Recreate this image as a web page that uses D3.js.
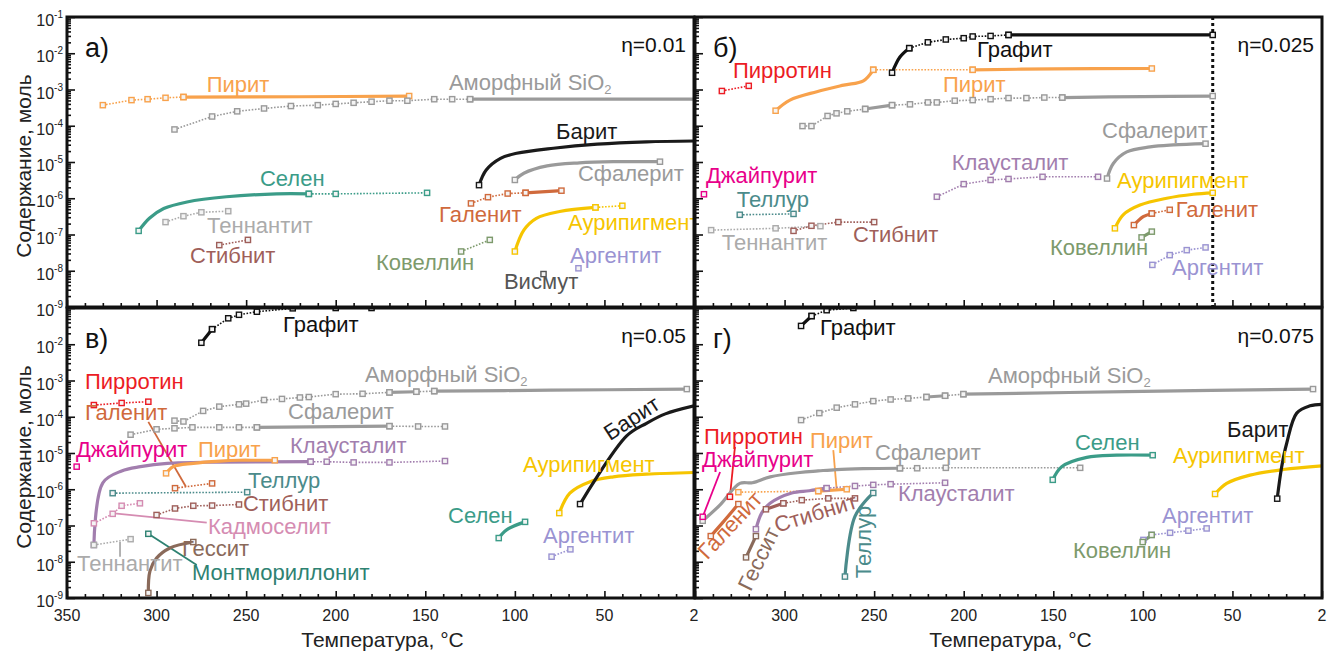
<!DOCTYPE html>
<html>
<head>
<meta charset="utf-8">
<script src="https://cdn.jsdelivr.net/npm/d3@7"></script>
<style>
  html, body { margin: 0; padding: 0; background: #fff; }
  svg { display: block; font-family: "Liberation Sans", Arial, sans-serif; }
</style>
</head>
<body>
<svg id="chart" width="1336" height="653"></svg>
<script>
// Temperature axis (°C) and tick labels
const tempMajorTicks = [350, 300, 250, 200, 150, 100, 50, 0];
const tempTickLabels = ["350", "300", "250", "200", "150", "100", "50", "2"];
const decadeExponents = [-1, -2, -3, -4, -5, -6, -7, -8, -9];

// Series: each mineral is a list of parts, "solid" (stable) or "dotted" (with square markers).
// Points are [temperature °C, content mol].
const seriesA = [
  { mineral: "Пирит", parts: [
    ["dotted", [[330, 3.7e-4], [314, 5.1e-4], [305, 5.4e-4], [295, 5.9e-4], [285, 6.2e-4]]],
    ["solid", [[285, 6.2e-4], [220, 6.3e-4], [159, 6.6e-4]]]] },
  { mineral: "Аморфный SiO2", parts: [
    ["dotted", [[290, 7.9e-5], [269, 1.8e-4], [255, 2.5e-4], [240, 3.0e-4], [225, 3.5e-4], [210, 3.7e-4], [200, 4.0e-4], [190, 4.3e-4], [180, 4.6e-4], [170, 4.9e-4], [160, 4.9e-4], [145, 5.4e-4], [135, 5.4e-4], [125, 5.4e-4]]],
    ["solid", [[125, 5.4e-4], [60, 5.4e-4], [0, 5.4e-4]]]] },
  { mineral: "Селен", parts: [
    ["solid", [[310, 1.26e-7], [304, 2.8e-7], [296, 5.2e-7], [283, 7.9e-7], [261, 1.1e-6], [233, 1.32e-6], [215, 1.32e-6]]],
    ["dotted", [[215, 1.32e-6], [200, 1.32e-6], [149, 1.41e-6]]]] },
  { mineral: "Теннантит", parts: [
    ["dotted", [[295, 2.2e-7], [285, 3.2e-7], [275, 4.1e-7], [260, 4.4e-7]]]] },
  { mineral: "Стибнит", parts: [
    ["dotted", [[265, 5.1e-8], [249, 7.1e-8]]]] },
  { mineral: "Барит", parts: [
    ["solid", [[120, 2.3e-6], [116, 6.0e-6], [108, 1.26e-5], [99, 1.74e-5], [78.5, 2.4e-5], [54, 3.1e-5], [26.5, 3.6e-5], [0, 3.8e-5]]]] },
  { mineral: "Сфалерит", parts: [
    ["solid", [[100, 3.2e-6], [95, 4.9e-6], [82, 7.8e-6], [64, 9.5e-6], [45, 1.02e-5], [19, 1.02e-5]]]] },
  { mineral: "Галенит", parts: [
    ["dotted", [[124.5, 7.2e-7], [115, 1.07e-6], [104, 1.35e-6], [94, 1.41e-6]]],
    ["solid", [[94, 1.41e-6], [74, 1.62e-6]]]] },
  { mineral: "Аурипигмент", parts: [
    ["solid", [[100, 3.4e-8], [95, 1.32e-7], [88, 2.8e-7], [75, 4.3e-7], [55, 5.6e-7]]],
    ["dotted", [[55, 5.6e-7], [40, 6.2e-7]]]] },
  { mineral: "Ковеллин", parts: [
    ["dotted", [[130, 3.4e-8], [114, 7.1e-8]]]] },
  { mineral: "Аргентит", parts: [["dotted", [[64.5, 1.17e-8]]]] },
  { mineral: "Висмут", parts: [["dotted", [[84, 8.1e-9]]]] }
];

const seriesB = [
  { mineral: "Пирротин", parts: [
    ["dotted", [[335, 9.1e-4], [320, 1.26e-3]]]] },
  { mineral: "Пирит", parts: [
    ["solid", [[305, 2.6e-4], [297, 5.1e-4], [282, 8.7e-4], [267, 1.32e-3], [256, 1.74e-3], [250.5, 3.5e-3]]],
    ["dotted", [[250.5, 3.5e-3], [195, 3.5e-3]]],
    ["solid", [[195, 3.5e-3], [150, 3.7e-3], [95, 3.8e-3]]]] },
  { mineral: "Графит", parts: [
    ["solid", [[240, 2.9e-3], [235.6, 7.9e-3], [230.4, 1.38e-2]]],
    ["dotted", [[230.4, 1.38e-2], [220, 2.0e-2], [210, 2.4e-2], [200, 2.6e-2], [195, 2.9e-2], [185, 3.0e-2], [175, 3.2e-2]]],
    ["solid", [[175, 3.2e-2], [61, 3.2e-2]]]] },
  { mineral: "Аморфный SiO2", parts: [
    ["dotted", [[290, 9.8e-5], [285, 9.8e-5], [276, 1.86e-4], [271, 2.2e-4], [265, 2.5e-4], [255, 2.9e-4]]],
    ["solid", [[255, 2.9e-4], [240, 3.7e-4]]],
    ["dotted", [[240, 3.7e-4], [230, 3.9e-4], [220, 4.4e-4], [215, 4.4e-4], [205, 4.9e-4], [195, 5.1e-4], [185, 5.4e-4], [175, 5.8e-4], [165, 5.8e-4], [155, 6.0e-4], [145, 6.0e-4]]],
    ["solid", [[145, 6.0e-4], [100, 6.4e-4], [61, 6.6e-4]]]] },
  { mineral: "Джайпурит", parts: [["dotted", [[345, 1.29e-6]]]] },
  { mineral: "Теллур", parts: [
    ["dotted", [[325, 3.5e-7], [295, 3.7e-7]]]] },
  { mineral: "Теннантит", parts: [
    ["dotted", [[341, 1.32e-7], [305, 1.48e-7], [280, 1.7e-7]]]] },
  { mineral: "Стибнит", parts: [
    ["dotted", [[295, 1.26e-7], [285, 1.74e-7], [270, 2.2e-7], [250, 2.2e-7]]]] },
  { mineral: "Клаусталит", parts: [
    ["dotted", [[215, 1.1e-6], [200, 2.45e-6], [185, 3.2e-6], [175, 3.4e-6], [156, 3.9e-6], [125, 3.9e-6]]]] },
  { mineral: "Сфалерит", parts: [
    ["solid", [[120, 3.5e-6], [116.5, 9.1e-6], [109, 1.9e-5], [96, 2.6e-5], [83, 2.95e-5], [65, 3.2e-5]]]] },
  { mineral: "Аурипигмент", parts: [
    ["solid", [[115.6, 1.48e-7], [111, 3.5e-7], [101.6, 6.5e-7], [86.7, 1.0e-6], [71.8, 1.29e-6], [61, 1.41e-6]]]] },
  { mineral: "Галенит", parts: [
    ["solid", [[105, 1.82e-7], [99.8, 3.1e-7], [95, 3.8e-7]]],
    ["dotted", [[95, 3.8e-7], [85, 4.8e-7]]]] },
  { mineral: "Ковеллин", parts: [
    ["solid", [[100.7, 8.3e-8], [95, 1.2e-7]]]] },
  { mineral: "Аргентит", parts: [
    ["dotted", [[94.7, 1.45e-8], [85, 2.7e-8], [75.5, 3.7e-8], [65, 4.4e-8]]]] }
];

const seriesC = [
  { mineral: "Графит", parts: [
    ["solid", [[275, 1.1e-2], [269, 2.6e-2]]],
    ["dotted", [[269, 2.6e-2], [260, 5.2e-2], [254, 6.5e-2], [244, 7.9e-2], [224, 9.8e-2], [200, 0.1], [180, 0.1]]]] },
  { mineral: "Пирротин", parts: [
    ["dotted", [[335, 2.1e-4], [319.5, 2.4e-4], [304.6, 2.6e-4]]]] },
  { mineral: "Аморфный SiO2", parts: [
    ["dotted", [[290, 7.8e-5], [285, 7.4e-5], [274, 1.45e-4], [265, 1.9e-4], [254, 2.2e-4], [250, 2.3e-4], [240, 2.9e-4], [230, 3.1e-4], [220, 3.4e-4], [215, 3.5e-4], [200, 4.2e-4], [185, 4.3e-4], [170, 4.7e-4]]],
    ["solid", [[170, 4.7e-4], [155, 4.9e-4]]],
    ["dotted", [[155, 4.9e-4], [145, 5.1e-4]]],
    ["solid", [[145, 5.1e-4], [80, 5.4e-4], [4, 5.8e-4]]]] },
  { mineral: "Сфалерит", parts: [
    ["dotted", [[314.5, 3.2e-5], [300, 4.5e-5], [290, 4.8e-5], [280, 5.1e-5], [265, 5.1e-5], [254, 5.1e-5], [244, 5.1e-5]]],
    ["solid", [[244, 5.1e-5], [170, 5.5e-5]]],
    ["dotted", [[170, 5.5e-5], [154, 5.4e-5], [139, 5.4e-5]]]] },
  { mineral: "Джайпурит", parts: [["dotted", [[344.6, 4.2e-6]]]] },
  { mineral: "Клаусталит", parts: [
    ["solid", [[335, 2.9e-8], [330, 1.51e-6], [319.5, 3.2e-6], [309, 4.2e-6], [294, 5.2e-6], [265, 5.6e-6], [214, 5.75e-6]]],
    ["dotted", [[214, 5.75e-6], [205, 5.75e-6], [190, 5.5e-6], [170, 5.5e-6], [139, 6.0e-6]]]] },
  { mineral: "Пирит", parts: [
    ["solid", [[294.7, 2.75e-6], [290.7, 4.2e-6], [279.5, 5.2e-6], [264.6, 6.0e-6], [254, 6.3e-6], [244, 6.3e-6], [234, 6.3e-6]]]] },
  { mineral: "Галенит", parts: [
    ["dotted", [[289.7, 1.07e-6], [269, 1.45e-6]]]] },
  { mineral: "Теллур", parts: [
    ["dotted", [[324.5, 7.8e-7], [249.4, 8.3e-7]]]] },
  { mineral: "Кадмоселит", parts: [
    ["dotted", [[335, 1.15e-7], [324.5, 2.1e-7], [319.5, 3.5e-7], [309.3, 4.1e-7]]]] },
  { mineral: "Стибнит", parts: [
    ["dotted", [[300, 1.95e-7], [289.7, 2.95e-7], [279.5, 3.5e-7], [269, 3.55e-7], [254, 3.8e-7]]]] },
  { mineral: "Теннантит", parts: [
    ["dotted", [[335, 2.9e-8], [314.5, 4.2e-8]]]] },
  { mineral: "Гессит", parts: [
    ["solid", [[304.6, 1.38e-9], [303.7, 5.5e-9], [300, 1.26e-8], [292.5, 2.4e-8], [279.5, 3.5e-8]]]] },
  { mineral: "Монтмориллонит", parts: [["dotted", [[304.6, 5.9e-8]]]] },
  { mineral: "Селен", parts: [
    ["solid", [[109, 4.5e-8], [104.6, 7.6e-8], [94.3, 1.26e-7]]]] },
  { mineral: "Аурипигмент", parts: [
    ["solid", [[75.2, 2.2e-7], [69.3, 7.8e-7], [58, 1.62e-6], [45, 2.2e-6], [26.5, 2.6e-6], [0, 2.9e-6]]]] },
  { mineral: "Барит", parts: [
    ["solid", [[63.6, 3.9e-7], [37.6, 2.95e-5], [26.5, 6.6e-5], [16, 1.2e-4], [0, 2.0e-4]]]] },
  { mineral: "Аргентит", parts: [
    ["dotted", [[79.5, 1.38e-8], [69, 2.2e-8]]]] }
];

const seriesD = [
  { mineral: "Графит", parts: [
    ["solid", [[290.8, 3.2e-2], [284.9, 6.0e-2]]],
    ["dotted", [[284.9, 6.0e-2], [276.5, 8.7e-2], [261.6, 0.1]]]] },
  { mineral: "Аморфный SiO2", parts: [
    ["dotted", [[290.8, 8.1e-5], [280.6, 1.26e-4], [270.9, 1.78e-4], [260.7, 2.2e-4], [250.5, 2.7e-4], [240.8, 3.0e-4], [231, 3.2e-4], [220.8, 3.5e-4]]],
    ["solid", [[220.8, 3.5e-4], [210.4, 3.8e-4]]],
    ["dotted", [[210.4, 3.8e-4], [200.2, 4.2e-4]]],
    ["solid", [[200.2, 4.2e-4], [100, 5.0e-4], [5, 5.8e-4]]]] },
  { mineral: "Сфалерит", parts: [
    ["solid", [[345.7, 1.35e-7], [336, 3.7e-7], [325, 1.45e-6], [318, 1.51e-6], [308, 2.2e-6], [291.4, 2.9e-6], [281.2, 3.2e-6], [271, 3.5e-6], [256, 3.7e-6], [235.6, 3.8e-6]]],
    ["dotted", [[235.6, 3.8e-6], [226, 3.8e-6], [210, 3.9e-6], [135, 3.9e-6]]]] },
  { mineral: "Джайпурит", parts: [["dotted", [[345.7, 1.74e-7]]]] },
  { mineral: "Пирротин", parts: [["dotted", [[330.5, 6.2e-7]]]] },
  { mineral: "Пирит", parts: [
    ["dotted", [[325.8, 8.3e-7], [281.2, 8.9e-7]]],
    ["solid", [[281.2, 8.9e-7], [265.3, 1.0e-6]]]] },
  { mineral: "Клаусталит", parts: [
    ["solid", [[316, 7.9e-8], [312.8, 2.2e-7], [308.1, 4.1e-7], [296, 7.9e-7], [286.2, 9.1e-7], [276.5, 1.07e-6]]],
    ["dotted", [[276.5, 1.07e-6], [260.7, 1.23e-6], [250.5, 1.32e-6], [240.8, 1.38e-6], [210.4, 1.51e-6]]]] },
  { mineral: "Стибнит", parts: [
    ["solid", [[310.4, 2.8e-7], [300.7, 4.1e-7]]],
    ["dotted", [[300.7, 4.1e-7], [290.4, 5.0e-7], [275.6, 5.6e-7], [260.7, 5.6e-7]]]] },
  { mineral: "Галенит", parts: [
    ["solid", [[341.2, 5.1e-8], [334.2, 1.26e-7], [325.8, 3.9e-7]]]] },
  { mineral: "Гессит", parts: [
    ["solid", [[321.5, 1.32e-8], [316, 5.1e-8]]]] },
  { mineral: "Теллур", parts: [
    ["solid", [[266.3, 3.9e-9], [260.7, 1.78e-7], [250.5, 7.9e-7]]]] },
  { mineral: "Селен", parts: [
    ["solid", [[150.3, 1.82e-6], [145.3, 4.2e-6], [131.3, 7.6e-6], [114.6, 8.7e-6], [94.5, 8.7e-6]]]] },
  { mineral: "Аурипигмент", parts: [
    ["solid", [[59.7, 7.4e-7], [53.2, 1.45e-6], [40.2, 2.45e-6], [21.6, 3.5e-6], [0, 4.4e-6]]]] },
  { mineral: "Барит", parts: [
    ["solid", [[25, 5.5e-7], [22.5, 4.2e-6], [19.7, 1.86e-5], [14.1, 1.26e-4], [6.7, 2.0e-4], [0, 2.2e-4]]]] },
  { mineral: "Аргентит", parts: [
    ["dotted", [[99.7, 4.0e-8], [95.1, 5.5e-8], [84.8, 6.3e-8], [74.6, 7.2e-8], [64.4, 8.3e-8]]]] },
  { mineral: "Ковеллин", parts: [
    ["solid", [[100.1, 3.5e-8], [95.1, 5.5e-8]]]] }
];

// Temperature of the vertical dotted line in panel б
const cutoffB = [61];

// Mineral names placed at [temperature, content]
const labelsA = [
  { mineral: "Пирит", at: [272, 8.7e-4] },
  { mineral: "Аморфный SiO2", at: [136.8, 9.8e-4] },
  { mineral: "Барит", at: [77, 4.3e-5] },
  { mineral: "Сфалерит", at: [64.8, 2.9e-6] },
  { mineral: "Селен", at: [242.3, 2.2e-6] },
  { mineral: "Теннантит", at: [271.8, 1.12e-7] },
  { mineral: "Стибнит", at: [281.3, 1.62e-8] },
  { mineral: "Ковеллин", at: [177.5, 1.05e-8] },
  { mineral: "Галенит", at: [142.3, 2.2e-7] },
  { mineral: "Аурипигмент", at: [70.3, 1.32e-7] },
  { mineral: "Аргентит", at: [69.2, 1.62e-8] },
  { mineral: "Висмут", at: [106.1, 3.2e-9] }
];
const labelsB = [
  { mineral: "Графит", at: [192.6, 7.9e-3] },
  { mineral: "Пирротин", at: [328.8, 2.04e-3] },
  { mineral: "Пирит", at: [211.6, 8.7e-4] },
  { mineral: "Сфалерит", at: [122.8, 4.6e-5] },
  { mineral: "Клаусталит", at: [206.7, 6.0e-6] },
  { mineral: "Джайпурит", at: [343.9, 2.57e-6] },
  { mineral: "Теллур", at: [326.7, 5.9e-7] },
  { mineral: "Аурипигмент", at: [114.4, 1.86e-6] },
  { mineral: "Галенит", at: [81.7, 3.1e-7] },
  { mineral: "Теннантит", at: [335.1, 3.7e-8] },
  { mineral: "Стибнит", at: [261.8, 6.3e-8] },
  { mineral: "Ковеллин", at: [151.8, 2.7e-8] },
  { mineral: "Аргентит", at: [83.7, 7.6e-9] }
];
const labelsC = [
  { mineral: "Графит", at: [229.4, 2.2e-2] },
  { mineral: "Пирротин", at: [340, 5.8e-4] },
  { mineral: "Галенит", at: [340, 8.1e-5] },
  { mineral: "Аморфный SiO2", at: [183.7, 9.3e-4] },
  { mineral: "Сфалерит", at: [226.6, 8.5e-5] },
  { mineral: "Джайпурит", at: [345, 7.9e-6] },
  { mineral: "Пирит", at: [276.9, 7.9e-6] },
  { mineral: "Клаусталит", at: [225.5, 1.02e-5] },
  { mineral: "Теллур", at: [249, 1.07e-6] },
  { mineral: "Стибнит", at: [251.8, 2.5e-7] },
  { mineral: "Кадмоселит", at: [271.3, 6.0e-8] },
  { mineral: "Гессит", at: [285.8, 1.45e-8] },
  { mineral: "Теннантит", at: [344.4, 5.4e-9] },
  { mineral: "Монтмориллонит", at: [280.2, 3.2e-9] },
  { mineral: "Аурипигмент", at: [95.4, 3.0e-6] },
  { mineral: "Селен", at: [137.3, 1.2e-7] },
  { mineral: "Аргентит", at: [84.3, 3.2e-8] },
  { mineral: "Барит", at: [34.8, 9.1e-5], rotate: -33 }
];
const labelsD = [
  { mineral: "Графит", at: [280.2, 1.82e-2] },
  { mineral: "Аморфный SiO2", at: [186.4, 8.3e-4] },
  { mineral: "Пирротин", at: [345, 1.75e-5] },
  { mineral: "Пирит", at: [285.8, 1.35e-5] },
  { mineral: "Джайпурит", at: [346.1, 4.0e-6] },
  { mineral: "Сфалерит", at: [249.5, 6.5e-6] },
  { mineral: "Клаусталит", at: [236.7, 4.6e-7] },
  { mineral: "Галенит", at: [330.5, 1.02e-7], rotate: -47 },
  { mineral: "Гессит", at: [314.5, 1.2e-8], rotate: -64 },
  { mineral: "Стибнит", at: [282.6, 2.2e-7], rotate: -17 },
  { mineral: "Теллур", at: [255.7, 3.5e-8], rotate: -90 },
  { mineral: "Селен", at: [137.9, 1.2e-5] },
  { mineral: "Барит", at: [53, 2.8e-5] },
  { mineral: "Аурипигмент", at: [83.2, 5.2e-6] },
  { mineral: "Аргентит", at: [89.3, 1.2e-7] },
  { mineral: "Ковеллин", at: [139, 1.26e-8] }
];

// Leader lines from a name to its point
const leadersC = [
  { mineral: "Галенит", from: [304.6, 7.2e-5], to: [283.6, 1.17e-6] },
  { mineral: "Кадмоселит", from: [325, 2.2e-7], to: [272, 1.2e-7] },
  { mineral: "Теннантит", from: [320.4, 3.5e-8], to: [320.4, 1.38e-8] },
  { mineral: "Монтмориллонит", from: [304.6, 5.9e-8], to: [277.6, 8.1e-9] }
];
const leadersD = [
  { mineral: "Джайпурит", from: [345.7, 1.74e-7], to: [336, 3.0e-6] },
  { mineral: "Пирротин", from: [330.5, 6.2e-7], to: [327.7, 1.48e-5] },
  { mineral: "Пирит", from: [270.9, 9.5e-7], to: [272.8, 1.2e-5] }
];

const mineralColor = {
  "Пирит": "#f8a24c",
  "Аморфный SiO2": "#9a9a9a",
  "Сфалерит": "#9a9a9a",
  "Теннантит": "#ababab",
  "Селен": "#3b9c88",
  "Стибнит": "#9f5f5a",
  "Барит": "#1a1a1a",
  "Галенит": "#d06a3c",
  "Аурипигмент": "#f6c500",
  "Ковеллин": "#7d9a6c",
  "Аргентит": "#9a93d2",
  "Висмут": "#555555",
  "Пирротин": "#ec1c24",
  "Джайпурит": "#e8008a",
  "Теллур": "#4b8b8b",
  "Клаусталит": "#a27eae",
  "Графит": "#111111",
  "Кадмоселит": "#d58cb2",
  "Гессит": "#8a6a5a",
  "Монтмориллонит": "#2e8272"
};

// ---- layout ----
const PW = 627, PH = 290;
const panels = [
  { key: "a", letter: "а)", eta: "η=0.01",  series: seriesA, labels: labelsA, leaders: [], left: 67,  top: 17,  yLabels: [-1, -2, -3, -4, -5, -6, -7, -8, -9], xLabels: false },
  { key: "b", letter: "б)", eta: "η=0.025", series: seriesB, labels: labelsB, leaders: [], left: 695, top: 17,  yLabels: [], xLabels: false, cutoff: cutoffB },
  { key: "c", letter: "в)", eta: "η=0.05",  series: seriesC, labels: labelsC, leaders: leadersC, left: 67,  top: 308, yLabels: [-2, -3, -4, -5, -6, -7, -8, -9], xLabels: true, firstX: true },
  { key: "d", letter: "г)", eta: "η=0.075", series: seriesD, labels: labelsD, leaders: leadersD, left: 695, top: 308, yLabels: [], xLabels: true, firstX: false }
];

const svg = d3.select("#chart");
const defs = svg.append("defs");

function drawPanel(p) {
  const x = d3.scaleLinear().domain([350, 0]).range([p.left, p.left + PW]);
  const y = d3.scaleLog().domain([1e-9, 1e-1]).range([p.top + PH, p.top]);
  const g = svg.append("g").attr("class", "panel-" + p.key);

  const clipId = "clip-" + p.key;
  defs.append("clipPath").attr("id", clipId).append("rect")
    .attr("x", p.left).attr("y", p.top).attr("width", PW).attr("height", PH);

  // ticks (inside the frame)
  const majorY = decadeExponents.map(e => Math.pow(10, e));
  const minorY = [];
  for (let e = -9; e < -1; e++) for (let k = 2; k <= 9; k++) minorY.push(k * Math.pow(10, e));
  const minorX = d3.range(340, 0, -10).filter(t => t % 50 !== 0);

  const axisG = g.append("g");
  axisG.append("g").attr("transform", `translate(${p.left},0)`)
    .call(d3.axisRight(y).tickValues(majorY).tickSize(8).tickFormat(""));
  axisG.append("g").attr("transform", `translate(${p.left},0)`)
    .call(d3.axisRight(y).tickValues(minorY).tickSize(4).tickFormat(""));
  axisG.append("g").attr("transform", `translate(0,${p.top + PH})`)
    .call(d3.axisTop(x).tickValues(tempMajorTicks).tickSize(7).tickFormat(""));
  axisG.append("g").attr("transform", `translate(0,${p.top + PH})`)
    .call(d3.axisTop(x).tickValues(minorX).tickSize(4).tickFormat(""));
  axisG.selectAll(".domain").remove();
  axisG.selectAll(".tick line").attr("stroke", "#111").attr("stroke-width", 1.6);

  const plot = g.append("g").attr("clip-path", `url(#${clipId})`);

  // vertical dotted line
  if (p.cutoff) {
    plot.selectAll("line.cutoff").data(p.cutoff).join("line")
      .attr("class", "cutoff")
      .attr("x1", d => x(d)).attr("x2", d => x(d))
      .attr("y1", p.top).attr("y2", p.top + PH)
      .attr("stroke", "#111").attr("stroke-width", 3).attr("stroke-dasharray", "3,3");
  }

  const solidLine = d3.line().x(d => x(d[0])).y(d => y(d[1])).curve(d3.curveCatmullRom.alpha(0.5));
  const dotLine = d3.line().x(d => x(d[0])).y(d => y(d[1]));

  // leaders
  plot.selectAll("line.leader").data(p.leaders).join("line")
    .attr("class", "leader")
    .attr("x1", d => x(d.from[0])).attr("y1", d => y(d.from[1]))
    .attr("x2", d => x(d.to[0])).attr("y2", d => y(d.to[1]))
    .attr("stroke", d => mineralColor[d.mineral]).attr("stroke-width", 1.8);

  // lines
  p.series.forEach(s => {
    const c = mineralColor[s.mineral];
    s.parts.forEach(([kind, pts]) => {
      if (pts.length < 2) return;
      if (kind === "solid") {
        plot.append("path").datum(pts).attr("d", solidLine)
          .attr("fill", "none").attr("stroke", c).attr("stroke-width", 3.2)
          .attr("stroke-linecap", "round").attr("stroke-linejoin", "round");
      } else {
        plot.append("path").datum(pts).attr("d", dotLine)
          .attr("fill", "none").attr("stroke", c).attr("stroke-width", 1.6)
          .attr("stroke-dasharray", "1.6,1.6");
      }
    });
  });

  // square markers
  p.series.forEach(s => {
    const c = mineralColor[s.mineral];
    const marks = [];
    s.parts.forEach(([kind, pts]) => {
      if (kind === "dotted") marks.push(...pts);
      else marks.push(pts[0], pts[pts.length - 1]);
    });
    plot.selectAll(null).data(marks.filter(d => d[0] > 0.5)).join("rect")
      .attr("x", d => x(d[0]) - 2.6).attr("y", d => y(d[1]) - 2.6)
      .attr("width", 5.2).attr("height", 5.2)
      .attr("fill", "#f4f4f4").attr("stroke", c).attr("stroke-width", 1.4);
  });

  // labels
  p.labels.forEach(l => {
    const c = mineralColor[l.mineral];
    const px = x(l.at[0]), py = y(l.at[1]);
    const t = plot.append("text")
      .attr("fill", c).attr("font-size", 22);
    if (l.rotate !== undefined) {
      t.attr("text-anchor", "middle").attr("dominant-baseline", "central")
        .attr("transform", `translate(${px},${py}) rotate(${l.rotate})`);
    } else {
      t.attr("x", px).attr("y", py);
    }
    if (l.mineral.endsWith("SiO2")) {
      t.append("tspan").text("Аморфный SiO");
      t.append("tspan").text("2").attr("font-size", 13).attr("dy", 4);
    } else {
      t.text(l.mineral);
    }
  });

  // panel letter and eta
  g.append("text").attr("x", p.left + 18).attr("y", p.top + 40)
    .attr("font-size", 27).attr("fill", "#111").text(p.letter);
  g.append("text").attr("x", p.left + PW - 8).attr("y", p.top + 35)
    .attr("text-anchor", "end").attr("font-size", 21).attr("fill", "#111").text(p.eta);

  // frame
  g.append("rect").attr("x", p.left).attr("y", p.top).attr("width", PW).attr("height", PH)
    .attr("fill", "none").attr("stroke", "#111").attr("stroke-width", 3);

  // y tick labels
  const yl = g.selectAll("text.ylab").data(p.yLabels).join("text")
    .attr("class", "ylab")
    .attr("text-anchor", "end").attr("font-size", 16).attr("fill", "#222")
    .attr("x", p.left - 4).attr("y", e => y(Math.pow(10, e)) + 9);
  yl.append("tspan").text("10");
  yl.append("tspan").attr("font-size", 10).attr("dy", -8).text(e => "-" + (-e));

  // x tick labels
  if (p.xLabels) {
    const idx = d3.range(tempMajorTicks.length).filter(i => p.firstX || i > 0);
    g.selectAll("text.xlab").data(idx).join("text")
      .attr("class", "xlab")
      .attr("text-anchor", "middle").attr("font-size", 16).attr("fill", "#222")
      .attr("x", i => x(tempMajorTicks[i])).attr("y", p.top + PH + 23)
      .text(i => tempTickLabels[i]);
    svg.append("text").attr("x", p.left + PW / 2 + 2).attr("y", 647)
      .attr("text-anchor", "middle").attr("font-size", 21).attr("fill", "#222")
      .text("Температура, °C");
  }
  if (p.left < 100) {
    svg.append("text")
      .attr("transform", `translate(31,${p.top + PH / 2 + 4}) rotate(-90)`)
      .attr("text-anchor", "middle").attr("font-size", 21).attr("fill", "#222")
      .text("Содержание, моль");
  }
}

panels.forEach(drawPanel);
</script>
</body>
</html>
